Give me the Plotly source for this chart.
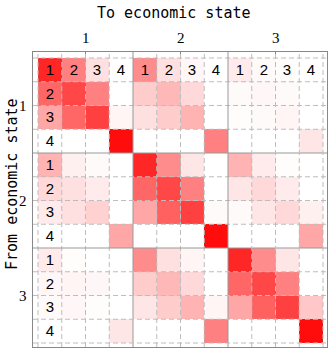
import plotly.graph_objects as go

groups = ["1", "2", "3"]
substates = ["1", "2", "3", "4"]

# transition intensities (0 = white, 1 = full red), rows = from, cols = to
row_1_1 = [0.85, 0.50, 0.12, 0.00, 0.45, 0.12, 0.03, 0.00, 0.08, 0.02, 0.01, 0.00]
row_1_2 = [0.60, 0.72, 0.50, 0.00, 0.20, 0.28, 0.15, 0.00, 0.02, 0.03, 0.02, 0.00]
row_1_3 = [0.35, 0.60, 0.75, 0.04, 0.12, 0.20, 0.30, 0.00, 0.01, 0.02, 0.04, 0.00]
row_1_4 = [0.00, 0.00, 0.00, 0.95, 0.00, 0.00, 0.00, 0.50, 0.00, 0.00, 0.00, 0.10]
row_2_1 = [0.30, 0.06, 0.02, 0.00, 0.85, 0.45, 0.10, 0.00, 0.30, 0.08, 0.01, 0.00]
row_2_2 = [0.15, 0.12, 0.08, 0.00, 0.60, 0.72, 0.50, 0.00, 0.10, 0.15, 0.08, 0.00]
row_2_3 = [0.08, 0.12, 0.18, 0.00, 0.35, 0.62, 0.75, 0.02, 0.02, 0.10, 0.15, 0.06]
row_2_4 = [0.00, 0.00, 0.00, 0.35, 0.00, 0.00, 0.00, 0.95, 0.00, 0.00, 0.00, 0.35]
row_3_1 = [0.08, 0.01, 0.00, 0.00, 0.45, 0.12, 0.04, 0.00, 0.85, 0.45, 0.10, 0.00]
row_3_2 = [0.03, 0.04, 0.03, 0.00, 0.20, 0.28, 0.15, 0.00, 0.60, 0.72, 0.50, 0.00]
row_3_3 = [0.02, 0.03, 0.01, 0.00, 0.10, 0.20, 0.30, 0.04, 0.35, 0.62, 0.75, 0.22]
row_3_4 = [0.00, 0.00, 0.00, 0.10, 0.00, 0.00, 0.00, 0.50, 0.00, 0.00, 0.00, 0.95]

z = [row_1_1, row_1_2, row_1_3, row_1_4,
     row_2_1, row_2_2, row_2_3, row_2_4,
     row_3_1, row_3_2, row_3_3, row_3_4]

n = len(groups) * len(substates)
ns = len(substates)

# labels in first row and first column
text = [["" for _ in range(n)] for _ in range(n)]
for j in range(n):
    text[0][j] = substates[j % ns]
for i in range(n):
    text[i][0] = substates[i % ns]

W, H = 332, 354
L, R, T, B = 33, 5, 52, 7
pw, ph = W - L - R, H - T - B

def px(x):
    return (x - L) / pw

def py(y):
    return (H - B - y) / ph

fig = go.Figure(go.Heatmap(
    z=z, x=list(range(n)), y=list(range(n)),
    text=text, texttemplate="%{text}",
    textfont=dict(family="Liberation Sans, Arial", size=15, color="black"),
    colorscale=[[0, "#ffffff"], [1, "#ff0000"]], zmin=0, zmax=1,
    showscale=False, hoverinfo="skip",
))

shapes = []
for k in range(n + 1):
    b = k - 0.5
    solid = (k % ns == 0) and 0 < k < n
    style = dict(color="#999999", width=1) if solid else dict(color="#bdbdbd", width=1, dash="5px,3px")
    shapes.append(dict(type="line", xref="x", yref="paper", x0=b, x1=b, y0=0, y1=1, line=style))
    shapes.append(dict(type="line", xref="paper", yref="y", x0=0, x1=1, y0=b, y1=b, line=style))

centers = [g * ns + (ns - 1) / 2 for g in range(len(groups))]

serif = dict(family="Liberation Serif, Times New Roman", size=15, color="black")
mono = dict(family="DejaVu Sans Mono", size=15, color="black")
annotations = []
for c, g in zip(centers, groups):
    annotations.append(dict(x=c, y=py(38), xref="x", yref="paper", text=g, showarrow=False,
                            xanchor="center", yanchor="middle", font=serif))
    annotations.append(dict(x=px(23), y=c, xref="paper", yref="y", text=g, showarrow=False,
                            xanchor="center", yanchor="middle", font=serif))
annotations.append(dict(x=px(174), y=py(13), xref="paper", yref="paper", text="To economic state",
                        showarrow=False, xanchor="center", yanchor="middle", font=mono))
annotations.append(dict(x=px(12), y=py(184), xref="paper", yref="paper", text="From economic state",
                        showarrow=False, textangle=-90, xanchor="center", yanchor="middle", font=mono))

cell = 285 / 12
fig.update_layout(
    width=W, height=H,
    margin=dict(l=L, r=R, t=T, b=B, pad=0),
    plot_bgcolor="white", paper_bgcolor="white",
    shapes=shapes, annotations=annotations,
    xaxis=dict(range=[-0.5 - 5 / cell, n - 0.5 + 4 / cell], showgrid=False, zeroline=False,
               showline=True, mirror=True, linecolor="#888888", linewidth=1,
               side="top", tickvals=centers, ticks="inside", ticklen=5, tickcolor="#888888",
               showticklabels=False, fixedrange=True),
    yaxis=dict(range=[n - 0.5 + 4 / cell, -0.5 - 6 / cell], showgrid=False, zeroline=False,
               showline=True, mirror=True, linecolor="#888888", linewidth=1,
               tickvals=centers, ticks="inside", ticklen=5, tickcolor="#888888",
               showticklabels=False, fixedrange=True),
)

fig.write_html("out.html", config={"displayModeBar": False},
               post_script="document.body.style.margin='0px';document.body.style.overflow='hidden';")
